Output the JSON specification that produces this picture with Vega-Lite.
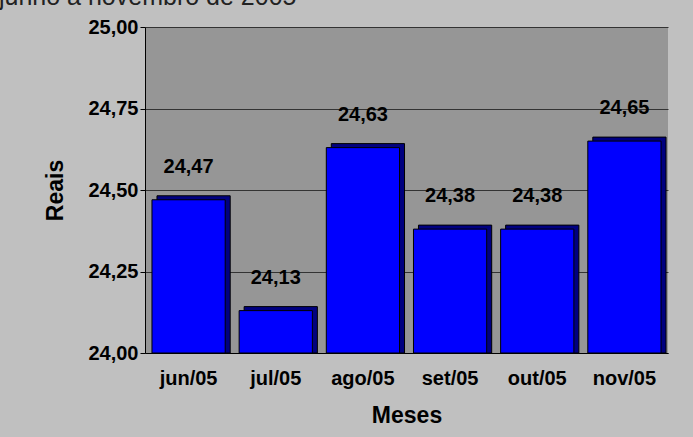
{
  "$schema": "https://vega.github.io/schema/vega-lite/v6.json",
  "width": 523,
  "height": 326,
  "autosize": "none",
  "padding": {"left": 145, "top": 27, "right": 25, "bottom": 84},
  "background": "#c0c0c0",
  "config": {
    "locale": {"number": {"decimal": ",", "thousands": ".", "grouping": [3], "currency": ["R$ ", ""]}},
    "view": {"fill": "#969696", "stroke": null},
    "font": "Liberation Sans"
  },
  "title": {
    "text": "junho a novembro de 2005",
    "anchor": "start",
    "frame": "group",
    "orient": "top",
    "baseline": "alphabetic",
    "offset": 0,
    "dx": -146,
    "dy": 13,
    "fontSize": 25,
    "fontWeight": "normal",
    "color": "#222222",
    "font": "Liberation Sans"
  },
  "data": {
    "values": [
      {"mes": "jun/05", "valor": 24.47},
      {"mes": "jul/05", "valor": 24.13},
      {"mes": "ago/05", "valor": 24.63},
      {"mes": "set/05", "valor": 24.38},
      {"mes": "out/05", "valor": 24.38},
      {"mes": "nov/05", "valor": 24.65}
    ]
  },
  "encoding": {
    "x": {
      "field": "mes",
      "type": "nominal",
      "sort": null,
      "scale": {"paddingInner": 0.16, "paddingOuter": 0.08},
      "axis": {
        "labelAngle": 0,
        "ticks": false,
        "labelPadding": 15,
        "labelFontSize": 20,
        "labelFontWeight": "bold",
        "labelColor": "#000000",
        "domainColor": "#000000",
        "title": "Meses",
        "titleFontSize": 23,
        "titleFontWeight": "bold",
        "titleColor": "#000000",
        "titlePadding": 16
      }
    },
    "y": {
      "field": "valor",
      "type": "quantitative",
      "scale": {"domain": [24, 25], "zero": false, "nice": false},
      "axis": {
        "values": [24, 24.25, 24.5, 24.75, 25],
        "format": ".2f",
        "labelFontSize": 20,
        "labelFontWeight": "bold",
        "labelColor": "#000000",
        "labelPadding": 2,
        "tickColor": "#000000",
        "tickSize": 5,
        "domainColor": "#000000",
        "grid": true,
        "gridColor": "#333333",
        "gridWidth": 1,
        "title": "Reais",
        "titleFontSize": 23,
        "titleFontWeight": "bold",
        "titleColor": "#000000",
        "titlePadding": 20
      }
    }
  },
  "layer": [
    {
      "mark": {"type": "bar", "color": "#000080", "stroke": "#000000", "strokeWidth": 1, "xOffset": 5, "x2Offset": 5, "yOffset": -4, "y2Offset": 0},
      "encoding": {"y2": {"datum": 24}}
    },
    {
      "mark": {"type": "bar", "color": "#0000ff", "stroke": "#000000", "strokeWidth": 1},
      "encoding": {"y2": {"datum": 24}}
    },
    {
      "mark": {"type": "text", "dy": -33, "fontSize": 20, "fontWeight": "bold", "color": "#000000", "baseline": "middle"},
      "encoding": {"text": {"field": "valor", "type": "quantitative", "format": ".2f"}}
    }
  ]
}
